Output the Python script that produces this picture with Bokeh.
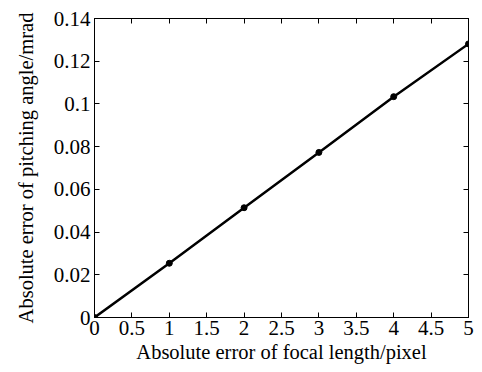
from bokeh.plotting import figure
from bokeh.models import LinearAxis, FixedTicker, Range1d
from bokeh.embed import file_html
from bokeh.resources import INLINE

focal_error = [0, 1, 2, 3, 4, 5]
pitch_error = [0.0, 0.0254, 0.0514, 0.0773, 0.1034, 0.1281]

x_ticks = [0, 0.5, 1, 1.5, 2, 2.5, 3, 3.5, 4, 4.5, 5]
x_tick_labels = ["0", "0.5", "1", "1.5", "2", "2.5", "3", "3.5", "4", "4.5", "5"]
y_ticks = [0, 0.02, 0.04, 0.06, 0.08, 0.1, 0.12, 0.14]
y_tick_labels = ["0", "0.02", "0.04", "0.06", "0.08", "0.1", "0.12", "0.14"]

FONT = "Liberation Serif"
TICK_FS = "21px"
LABEL_FS = "20.5px"

p = figure(frame_width=374, frame_height=299, output_backend="svg", toolbar_location=None,
           x_range=Range1d(0, 5), y_range=Range1d(0, 0.14),
           min_border_left=94, min_border_top=18, min_border_right=13, min_border_bottom=54,
           x_axis_label="Absolute error of focal length/pixel",
           y_axis_label="Absolute error of pitching angle/mrad")
p.grid.visible = False
p.outline_line_color = "black"
p.outline_line_width = 1
p.background_fill_color = "white"
p.border_fill_color = "white"

for ax, ticks, labels in ((p.xaxis[0], x_ticks, x_tick_labels), (p.yaxis[0], y_ticks, y_tick_labels)):
    ax.ticker = FixedTicker(ticks=ticks)
    ax.major_label_overrides = {t: l for t, l in zip(ticks, labels)}
    ax.minor_tick_line_color = None
    ax.major_tick_in = 5
    ax.major_tick_out = 0
    ax.axis_line_color = "black"
    ax.major_tick_line_color = "black"
    ax.major_label_text_font = FONT
    ax.major_label_text_font_size = TICK_FS
    ax.major_label_text_color = "black"
    ax.axis_label_text_font = FONT
    ax.axis_label_text_font_size = LABEL_FS
    ax.axis_label_text_font_style = "normal"
    ax.axis_label_text_color = "black"

p.xaxis[0].major_label_standoff = 3
p.yaxis[0].major_label_standoff = 4
p.xaxis[0].axis_label_standoff = 3
p.yaxis[0].axis_label_standoff = 14

top = LinearAxis(ticker=FixedTicker(ticks=x_ticks), major_label_text_color=None,
                 major_tick_in=5, major_tick_out=0, minor_tick_line_color=None,
                 major_label_text_font_size="0px")
right = LinearAxis(ticker=FixedTicker(ticks=y_ticks), major_label_text_color=None,
                   major_tick_in=5, major_tick_out=0, minor_tick_line_color=None,
                   major_label_text_font_size="0px")
p.add_layout(top, "above")
p.add_layout(right, "right")

p.line(focal_error, pitch_error, line_color="black", line_width=2.5)
p.scatter(focal_error, pitch_error, size=6, color="black")

open("out.html", "w").write(file_html(p, INLINE))
